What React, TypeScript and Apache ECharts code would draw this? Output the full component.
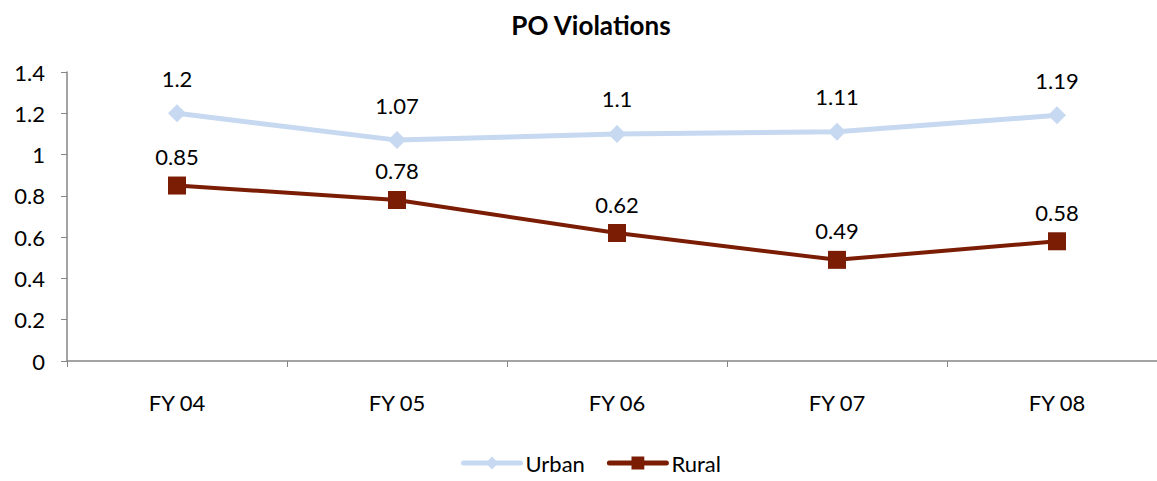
import React, { useEffect, useRef } from "react";
import * as echarts from "echarts";

const categories = ["FY 04", "FY 05", "FY 06", "FY 07", "FY 08"];
const urban = [1.2, 1.07, 1.1, 1.11, 1.19];
const rural = [0.85, 0.78, 0.62, 0.49, 0.58];

const FONT = "Lato, 'Noto Sans', sans-serif";
const FS = 22;

export default function App() {
  const ref = useRef<HTMLDivElement>(null);
  useEffect(() => {
    document.body.style.margin = "0";
    const chart = echarts.init(ref.current!, null, { renderer: "svg" });
    chart.setOption({
      animation: false,
      textStyle: { fontFamily: FONT },
      title: {
        text: "PO Violations",
        left: 586,
        textAlign: "center",
        top: 7,
        textStyle: { fontFamily: FONT, fontSize: 26, fontWeight: "bold", color: "#000" },
      },
      legend: {
        bottom: 2,
        left: 456,
        itemWidth: 57,
        itemHeight: 16,
        itemGap: 22,
        lineStyle: { width: 5, cap: "round" },
        textStyle: { fontFamily: FONT, fontSize: FS, color: "#000" },
        data: ["Urban", "Rural"],
      },
      grid: { left: 67, top: 72, width: 1100, height: 289 },
      xAxis: {
        type: "category",
        data: categories,
        boundaryGap: true,
        axisLine: { lineStyle: { color: "#868686", width: 1.5 } },
        axisTick: { show: true, length: 6, lineStyle: { color: "#868686" } },
        axisLabel: { color: "#000", fontSize: FS, fontFamily: FONT, margin: 30 },
      },
      yAxis: {
        type: "value",
        min: 0,
        max: 1.4,
        interval: 0.2,
        splitLine: { show: false },
        axisLine: { show: true, lineStyle: { color: "#868686", width: 1.5 } },
        axisTick: { show: true, length: 6, lineStyle: { color: "#868686" } },
        axisLabel: {
          color: "#000",
          fontSize: FS,
          fontFamily: FONT,
          margin: 22,
          formatter: (v: number) => String(Math.round(v * 10) / 10),
        },
      },
      series: [
        {
          name: "Urban",
          type: "line",
          data: urban,
          symbol: "diamond",
          symbolSize: 18,
          lineStyle: { color: "#C6D9F1", width: 5 },
          itemStyle: { color: "#C6D9F1" },
          label: {
            show: true,
            position: "top",
            distance: 15,
            color: "#000",
            fontSize: FS,
            fontFamily: FONT,
          },
        },
        {
          name: "Rural",
          type: "line",
          data: rural,
          symbol: "rect",
          symbolSize: 18,
          lineStyle: { color: "#7B1C05", width: 4 },
          itemStyle: { color: "#7B1C05" },
          label: {
            show: true,
            position: "top",
            distance: 9,
            color: "#000",
            fontSize: FS,
            fontFamily: FONT,
          },
        },
      ],
    });
    return () => chart.dispose();
  }, []);
  return (
    <div style={{ width: 1157, height: 481, overflow: "hidden", position: "relative" }}>
      <div ref={ref} style={{ width: 1170, height: 481 }} />
    </div>
  );
}
